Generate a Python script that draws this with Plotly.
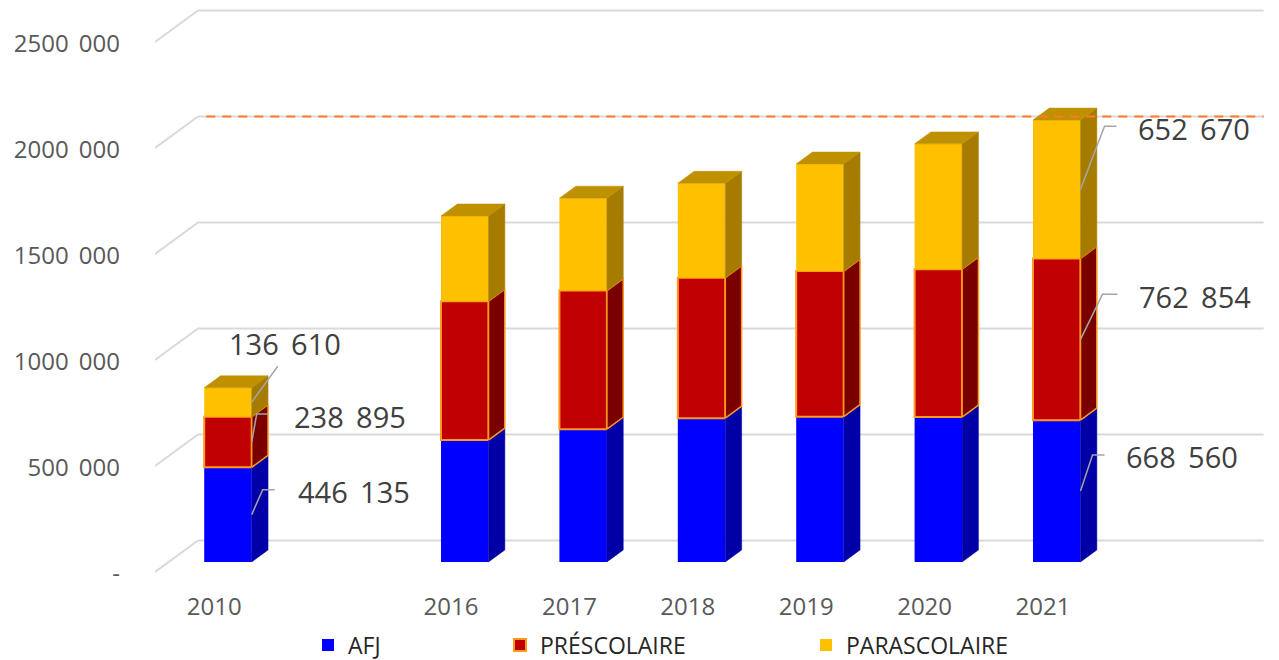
import plotly.graph_objects as go

# ---------------- data ----------------
CATEGORIES = ["2010", "", "2016", "2017", "2018", "2019", "2020", "2021", ""]
AFJ = [446135, None, 575000, 626000, 678000, 685000, 683000, 668560, None]
PRESCOLAIRE = [238895, None, 655000, 654000, 663000, 687000, 698000, 762854, None]
PARASCOLAIRE = [136610, None, 402000, 436000, 445000, 505000, 591000, 652670, None]
SERIES_NAMES = ["AFJ", "PRÉSCOLAIRE", "PARASCOLAIRE"]
Y_TICK_VALUES = [0, 500000, 1000000, 1500000, 2000000, 2500000]
Y_TICK_LABELS = ["-", "500\u2009 000", "1000\u2009 000", "1500\u2009 000", "2000\u2009 000", "2500\u2009 000"]
LABELED_CATEGORIES = ["2010", "2021"]
REFERENCE_LEVEL = 2000000

# ---------------- styling / geometry ----------------
W, H = 1279, 660
ML, MR, MT, MB = 155, 14, 0, 80
PX_SLOT = 118.4                 # pixels per category slot
K = 106 / 500000                # pixels per value unit
DXZ = 43 / PX_SLOT              # depth -> slot units
DVZ = 31.5 / K                  # depth -> value units
Z_FRONT, Z_BACK = 0.32, 0.70
HALF_W = 0.5 * 47.5 / PX_SLOT

FRONT = ["#0000FF", "#C00000", "#FFC000"]
SIDE = ["#0000A6", "#7A0000", "#A67C00"]
TOP = "#BF9000"
ORANGE_EDGE = "#FF9A1F"
GRID = "#D9D9D9"
TXT = "#595959"
LBL = "#404040"
FONT = "Open Sans"

# label layout: (series index, text dx, text dy, leader path offsets) in pixels
LABEL_LAYOUT = {
    "2010": [
        (0, 44, 23, [(0, 0), (11, 25), (23, 25)]),
        (1, 40, 26, [(0, 0), (5, 28), (16, 28)]),
        (2, -25, 59, [(0, 0), (26, 36)]),
    ],
    "2021": [
        (0, 43, 35, [(0, 0), (12, 36), (24, 36)]),
        (1, 56, 43, [(0, 0), (22, 45), (37, 45)]),
        (2, 55, 61, [(0, 0), (24, 63), (36, 63)]),
    ],
}

series = [AFJ, PRESCOLAIRE, PARASCOLAIRE]
slots = list(range(len(CATEGORIES)))
n_slots = len(CATEGORIES)

fig = go.Figure()

def proj(s, v, z):
    return s + z * DXZ, v + z * DVZ

# front faces (real bar traces, one legend each)
cum = [0 if series[0][i] is not None else None for i in slots]
bases = []
for si, (name, vals) in enumerate(zip(SERIES_NAMES, series)):
    xs, ys, bs = [], [], []
    seg_base = []
    for i in slots:
        if vals[i] is None:
            seg_base.append(None)
            continue
        seg_base.append(cum[i])
        xs.append(i + Z_FRONT * DXZ)
        ys.append(vals[i])
        bs.append(cum[i] + Z_FRONT * DVZ)
    bases.append(seg_base)
    line = dict(color=ORANGE_EDGE, width=2) if si == 1 else dict(color=FRONT[si], width=0)
    fig.add_trace(go.Bar(
        x=xs, y=ys, base=bs, width=2 * HALF_W, name=name,
        marker=dict(color=FRONT[si], line=line),
        legend=["legend", "legend2", "legend3"][si],
        hoverinfo="skip",
    ))
    for i in slots:
        if vals[i] is not None:
            cum[i] += vals[i]

# side faces
for si, vals in enumerate(series):
    for i in slots:
        if vals[i] is None:
            continue
        v0 = bases[si][i]
        v1 = v0 + vals[i]
        p = [proj(i + HALF_W, v0, Z_FRONT), proj(i + HALF_W, v0, Z_BACK),
             proj(i + HALF_W, v1, Z_BACK), proj(i + HALF_W, v1, Z_FRONT),
             proj(i + HALF_W, v0, Z_FRONT)]
        lc = ORANGE_EDGE if si == 1 else SIDE[si]
        lw = 1.5 if si == 1 else 0.5
        fig.add_trace(go.Scatter(
            x=[q[0] for q in p], y=[q[1] for q in p], mode="lines",
            fill="toself", fillcolor=SIDE[si], line=dict(color=lc, width=lw),
            showlegend=False, hoverinfo="skip"))

# top faces
for i in slots:
    if series[2][i] is None:
        continue
    vt = cum[i]
    p = [proj(i - HALF_W, vt, Z_FRONT), proj(i + HALF_W, vt, Z_FRONT),
         proj(i + HALF_W, vt, Z_BACK), proj(i - HALF_W, vt, Z_BACK),
         proj(i - HALF_W, vt, Z_FRONT)]
    fig.add_trace(go.Scatter(
        x=[q[0] for q in p], y=[q[1] for q in p], mode="lines",
        fill="toself", fillcolor=TOP, line=dict(color=TOP, width=0.5),
        showlegend=False, hoverinfo="skip"))

# gridlines (3D floor + back wall)
shapes = []
x_left = -0.5
x_right = n_slots - 0.5
for v in Y_TICK_VALUES:
    a = proj(x_left, v, 0)
    b = proj(x_left, v, 1)
    c = proj(x_right, v, 1)
    shapes.append(dict(type="path", xref="x", yref="y", layer="below",
                       path=f"M{a[0]},{a[1]} L{b[0]},{b[1]} L{c[0]},{c[1]}",
                       line=dict(color=GRID, width=2)))

# dashed reference line on back wall
r0 = proj(x_left + 0.07, REFERENCE_LEVEL, 1)
r1 = proj(x_right, REFERENCE_LEVEL, 1)
shapes.append(dict(type="line", xref="x", yref="y", layer="above",
                   x0=r0[0], y0=r0[1], x1=r1[0], y1=r1[1],
                   line=dict(color="#FF7A2A", width=2, dash="9px,7px")))

# data labels with leader lines
def fmt(v):
    s = f"{v:,}"
    return s.replace(",", " \u2009")

annotations = []
for cat in LABELED_CATEGORIES:
    i = CATEGORIES.index(cat)
    for si, tdx, tdy, path in LABEL_LAYOUT[cat]:
        v0 = bases[si][i]
        mid = v0 + series[si][i] / 2
        ax, ay = proj(i + HALF_W, mid, Z_FRONT)
        xs = [ax + dx / PX_SLOT for dx, dy in path]
        ys = [ay + dy / K for dx, dy in path]
        fig.add_trace(go.Scatter(x=xs, y=ys, mode="lines",
                                 line=dict(color="#A6A6A6", width=1.5),
                                 showlegend=False, hoverinfo="skip"))
        annotations.append(dict(
            x=ax, y=ay, xref="x", yref="y", xshift=tdx, yshift=tdy,
            xanchor="left", yanchor="middle", showarrow=False,
            text=fmt(series[si][i]),
            font=dict(family=FONT, size=29, color=LBL)))

plot_w = W - ML - MR
plot_h = H - MT - MB

legend_common = dict(orientation="h", yanchor="middle", y=(H - 645) / H,
                     xref="container", yref="container", xanchor="left",
                     font=dict(family=FONT, size=23, color="#262626"),
                     bgcolor="rgba(0,0,0,0)", borderwidth=0)

fig.update_layout(
    width=W, height=H, autosize=False,
    margin=dict(l=ML, r=MR, t=MT, b=MB, pad=0),
    paper_bgcolor="white", plot_bgcolor="white",
    barmode="overlay",
    shapes=shapes, annotations=annotations,
    legend=dict(x=(349 - 41) / W, **legend_common),
    legend2=dict(x=(541 - 41) / W, **legend_common),
    legend3=dict(x=(847 - 41) / W, **legend_common),
    xaxis=dict(range=[-0.5, -0.5 + plot_w / PX_SLOT],
               tickmode="array",
               tickvals=[i for i in slots if CATEGORIES[i]],
               ticktext=[c for c in CATEGORIES if c],
               showgrid=False, zeroline=False, showline=False, ticks="",
               ticklabelstandoff=10, automargin=False,
               tickfont=dict(family=FONT, size=24, color=TXT), fixedrange=True),
    yaxis=dict(range=[-(plot_h - 572 + MT) / K, (572 - MT) / K],
               tickmode="array", tickvals=Y_TICK_VALUES, ticktext=Y_TICK_LABELS,
               showgrid=False, zeroline=False, showline=False, ticks="",
               ticklabelstandoff=34, ticklabelshift=2, automargin=False,
               tickfont=dict(family=FONT, size=24, color=TXT), fixedrange=True),
)

fig.write_html("out.html", config={"displayModeBar": False},
               post_script="document.body.style.margin='0';")
